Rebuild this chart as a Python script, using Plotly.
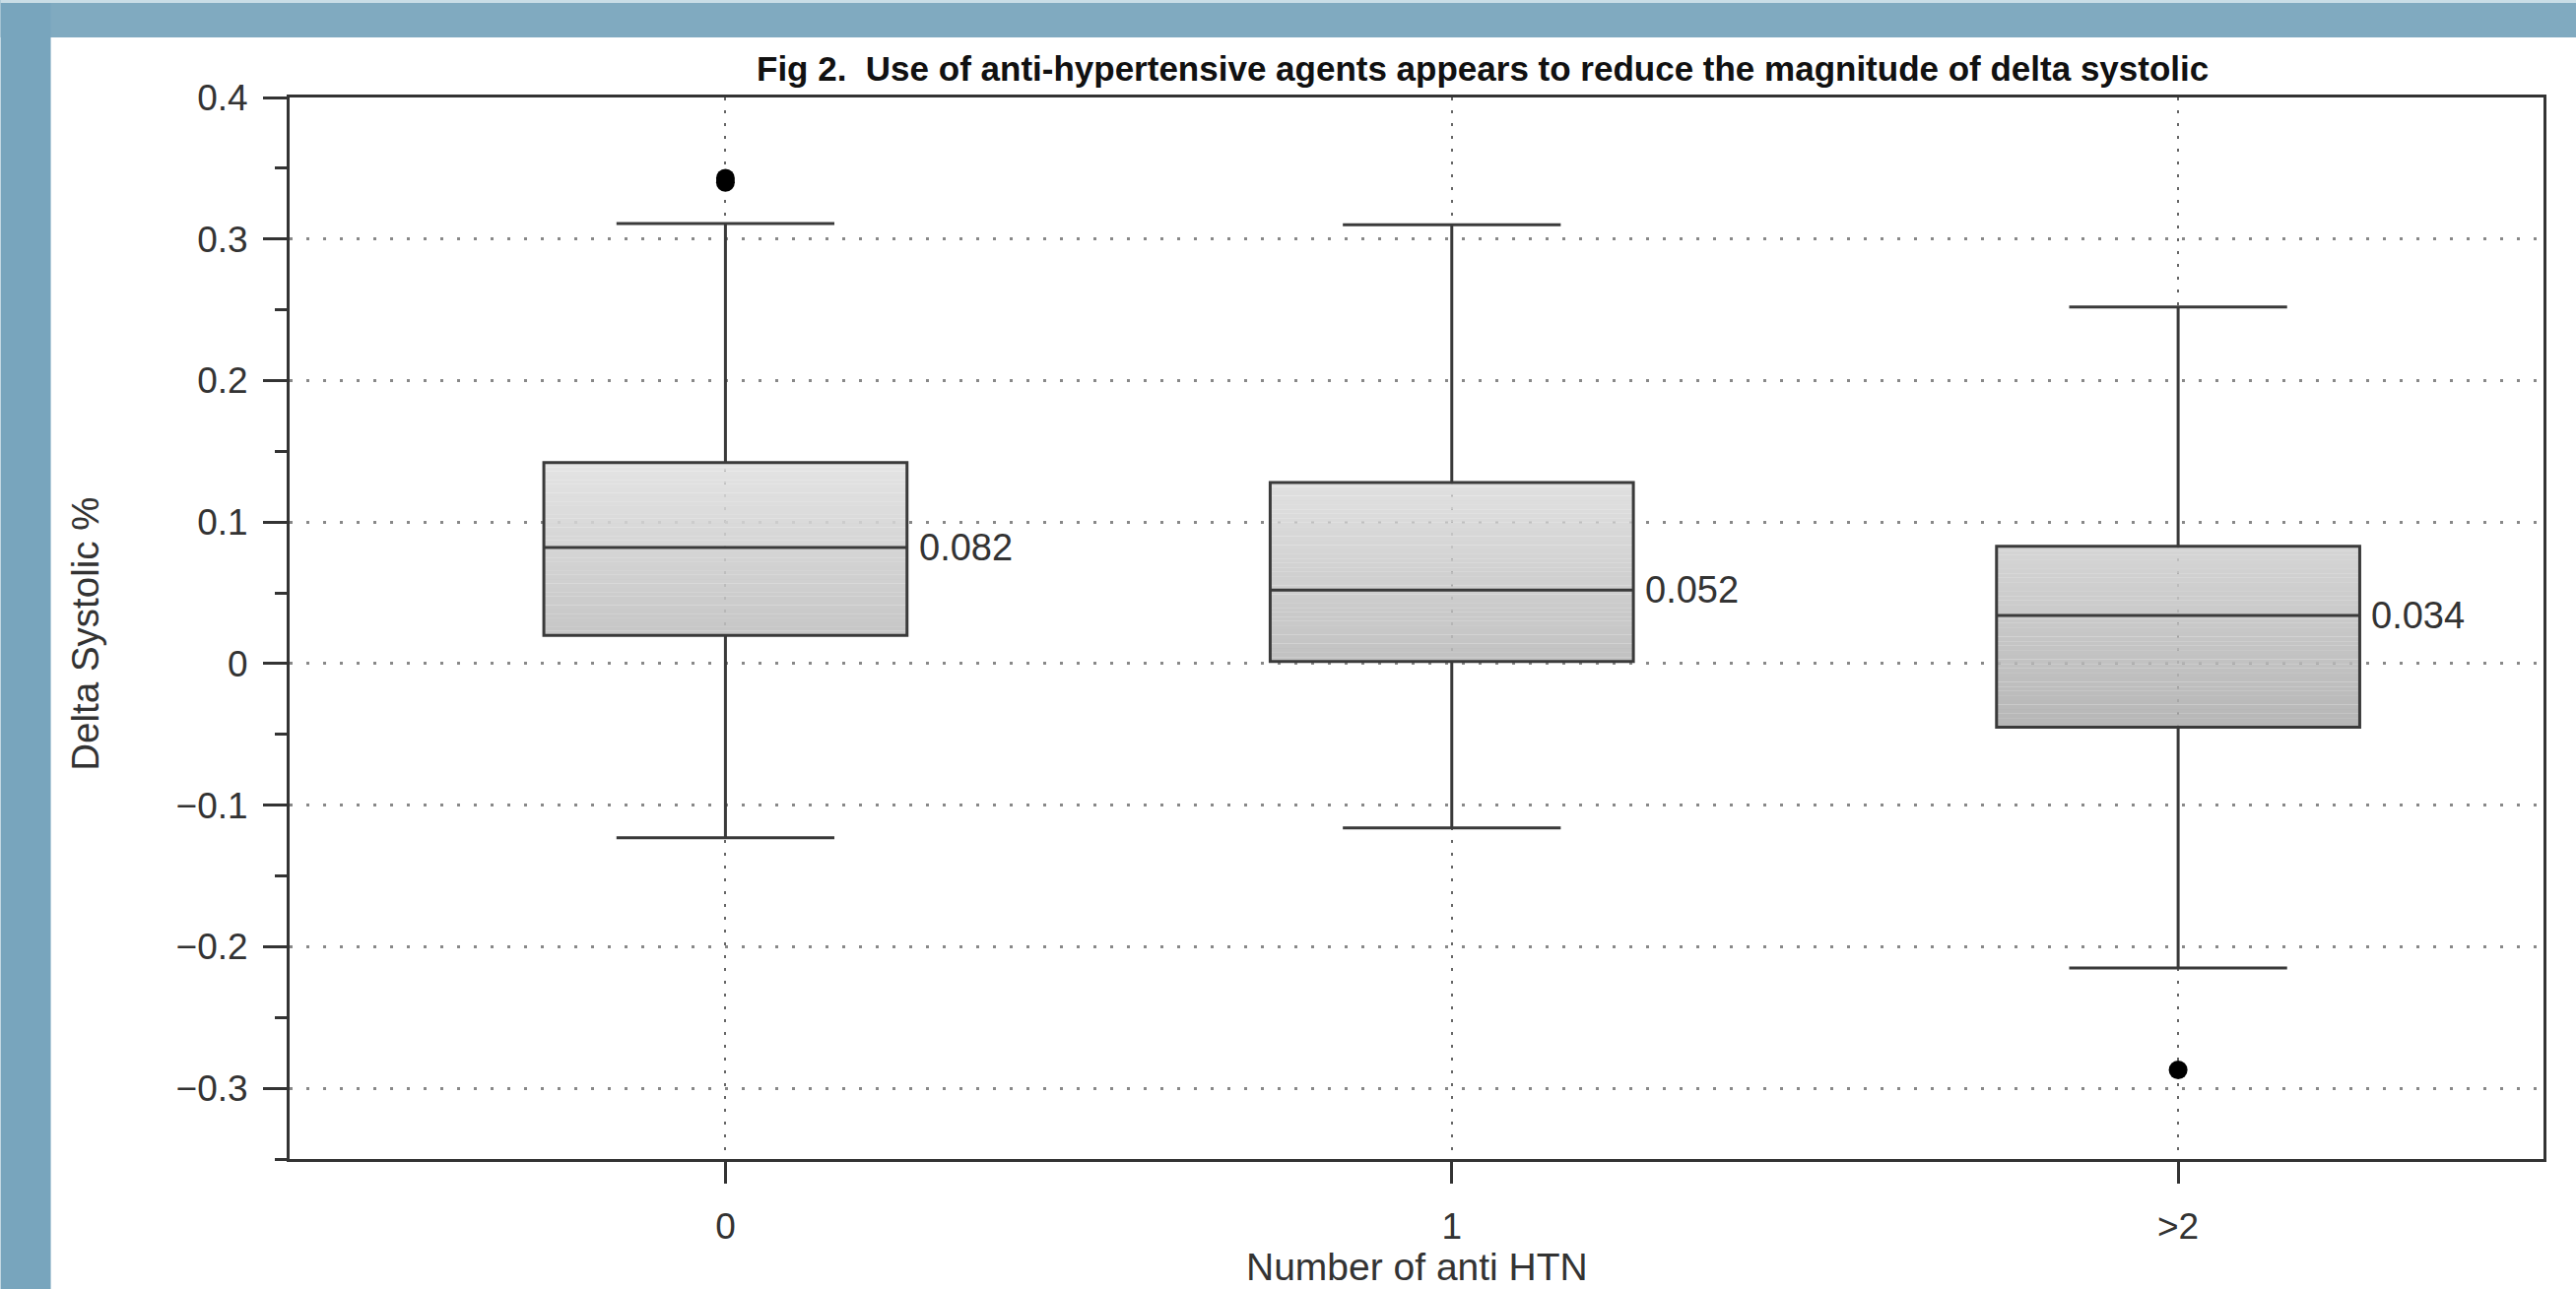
import plotly.graph_objects as go

# ---------------- data ----------------
categories = ["0", "1", ">2"]
positions = [0, 1, 2]
q1_vals = [0.020, 0.0015, -0.045]
median_vals = [0.082, 0.052, 0.034]
q3_vals = [0.142, 0.128, 0.083]
lower_whisker = [-0.123, -0.116, -0.215]
upper_whisker = [0.311, 0.310, 0.252]
outlier_x = [0, 0, 2]
outlier_y = [0.340, 0.343, -0.287]

title_text = "Fig 2.  Use of anti-hypertensive agents appears to reduce the magnitude of delta systolic"
x_title = "Number of anti HTN"
y_title = "Delta Systolic %"

# ---------------- layout geometry ----------------
W, H = 2615, 1309
ML, MR, MT, MB = 293.5, 2615 - 2582, 99, 1309 - 1176.7
PW = W - ML - MR
PH = H - MT - MB


def px2x(px):
    return (px - ML) / PW


def px2y(py):
    return (H - MB - py) / PH


FONT = "Liberation Sans, Arial, Helvetica, sans-serif"
DARK = "#333333"

fig = go.Figure()

# gradient fill of boxes (shade depends on y value)
def shade(v):
    e = 228 - (0.142 - v) * 246
    a = 0.88
    c = int(round((e - (1 - a) * 255) / a))
    c = max(0, min(255, c))
    return f"rgba({c},{c},{c},{a})"

N = 40
for p, lo, hi in zip(positions, q1_vals, q3_vals):
    step = (hi - lo) / N
    bases, heights, colors = [], [], []
    for i in range(N):
        b = lo + i * step
        bases.append(b)
        heights.append(step * 1.02 if i < N - 1 else step)
        colors.append(shade(b + step / 2))
    fig.add_trace(go.Bar(
        x=[p] * N, y=heights, base=bases, width=0.5,
        marker=dict(color=colors, line=dict(width=0)),
        hoverinfo="skip", showlegend=False,
    ))

# box outlines, medians, whiskers
fig.add_trace(go.Box(
    x=positions, q1=q1_vals, median=median_vals, q3=q3_vals,
    lowerfence=lower_whisker, upperfence=upper_whisker,
    width=0.5, whiskerwidth=0.6,
    fillcolor="rgba(0,0,0,0)",
    line=dict(color="#3a3a3a", width=3),
    boxpoints=False, showlegend=False,
))

# outliers
fig.add_trace(go.Scatter(
    x=outlier_x, y=outlier_y, mode="markers",
    marker=dict(color="black", size=19),
    showlegend=False, hoverinfo="skip",
))

# median labels
for p, m in zip(positions, median_vals):
    fig.add_annotation(
        x=p + 0.25, y=m, text=f"{m:.3f}", showarrow=False,
        xanchor="left", yanchor="middle", xshift=10,
        font=dict(family=FONT, size=38, color=DARK),
    )

# title and axis titles as annotations
fig.add_annotation(
    xref="paper", yref="paper", x=px2x(1505), y=px2y(70),
    text=f"<b>{title_text}</b>", showarrow=False,
    xanchor="center", yanchor="middle",
    font=dict(family=FONT, size=35, color="#111111"),
)
fig.add_annotation(
    xref="paper", yref="paper", x=px2x(1438), y=px2y(1286),
    text=x_title, showarrow=False, xanchor="center", yanchor="middle",
    font=dict(family=FONT, size=39, color=DARK),
)
fig.add_annotation(
    xref="paper", yref="paper", x=px2x(86), y=px2y(644),
    text=y_title, showarrow=False, xanchor="center", yanchor="middle",
    textangle=-90,
    font=dict(family=FONT, size=38.5, color=DARK),
)

# blue frame decoration
fig.add_shape(type="rect", xref="paper", yref="paper",
              x0=px2x(0), x1=px2x(W), y0=px2y(38), y1=px2y(0),
              fillcolor="#80aac0", line=dict(width=0), layer="below")
fig.add_shape(type="rect", xref="paper", yref="paper",
              x0=px2x(0), x1=px2x(51), y0=px2y(H), y1=px2y(0),
              fillcolor="#78a5bd", line=dict(width=0), layer="below")
fig.add_shape(type="rect", xref="paper", yref="paper",
              x0=px2x(0), x1=px2x(W), y0=px2y(3), y1=px2y(0),
              fillcolor="#c9dde6", line=dict(width=0), layer="below")

fig.update_layout(
    width=W, height=H,
    margin=dict(l=ML, r=MR, t=MT, b=MB, pad=0),
    paper_bgcolor="white", plot_bgcolor="white",
    barmode="overlay", boxmode="overlay",
    showlegend=False,
    font=dict(family=FONT, size=37, color=DARK),
    xaxis=dict(
        range=[-0.6, 2.503], tickvals=positions, ticktext=categories,
        showgrid=True, gridcolor="#666666", gridwidth=2, griddash="3px,10px",
        zeroline=False, showline=True, linecolor=DARK, linewidth=3, mirror=True,
        ticks="outside", ticklen=22, tickwidth=3, tickcolor=DARK,
        tickfont=dict(family=FONT, size=37, color=DARK),
        ticklabelstandoff=12,
    ),
    yaxis=dict(
        range=[-0.35, 0.4], dtick=0.1, tick0=0,
        showgrid=True, gridcolor="#888888", gridwidth=2.5, griddash="3px,14px",
        zeroline=False, showline=True, linecolor=DARK, linewidth=3, mirror=True,
        ticks="outside", ticklen=24, tickwidth=3, tickcolor=DARK,
        tickfont=dict(family=FONT, size=37, color=DARK),
        ticklabelstandoff=8,
        minor=dict(dtick=0.05, tick0=0, ticks="outside", ticklen=12,
                   tickwidth=3, tickcolor=DARK, showgrid=False),
    ),
)

fig.write_html(
    "out.html",
    config={"displayModeBar": False},
    post_script="document.body.style.margin='0px';document.body.style.overflow='hidden';",
)
